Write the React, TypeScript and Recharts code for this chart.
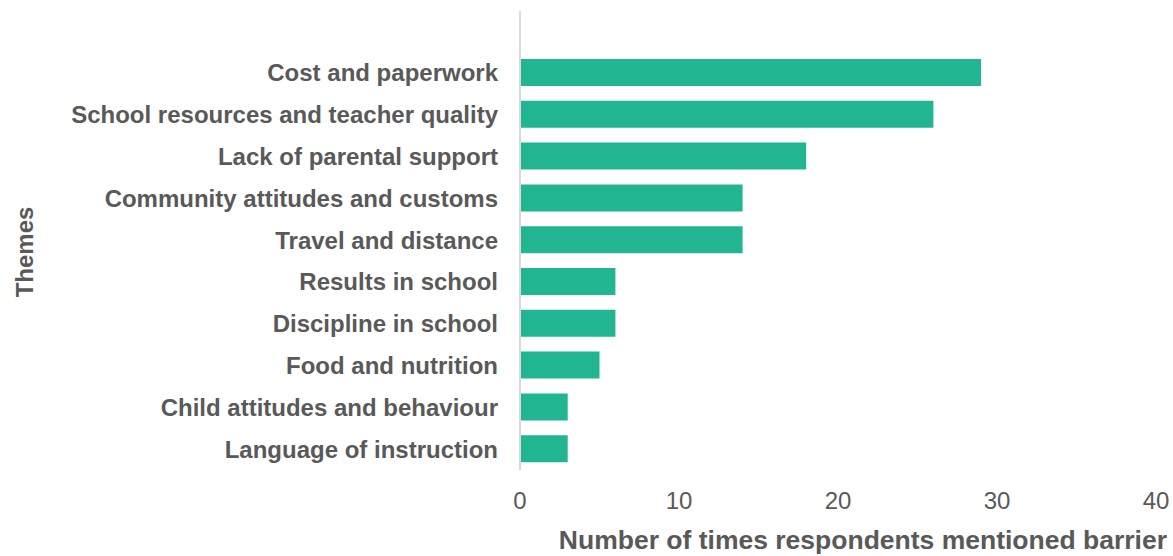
import { Bar, BarChart, XAxis, YAxis } from "recharts";

const THEMES = [
  "Cost and paperwork",
  "School resources and teacher quality",
  "Lack of parental support",
  "Community attitudes and customs",
  "Travel and distance",
  "Results in school",
  "Discipline in school",
  "Food and nutrition",
  "Child attitudes and behaviour",
  "Language of instruction",
];
const MENTIONS = [29, 26, 18, 14, 14, 6, 6, 5, 3, 3];
const X_TICKS = [0, 10, 20, 30, 40];

const FONT = "'Liberation Sans', Arial, sans-serif";
const TEXT_GREY = "#595959";
const BAR_GREEN = "#22b591";

const data = THEMES.map((theme, i) => ({ theme, value: MENTIONS[i] }));

function ThemesLabel() {
  const cx = 24;
  const cy = 252;
  return (
    <text
      x={cx}
      y={cy}
      transform={`rotate(-90, ${cx}, ${cy})`}
      textAnchor="middle"
      dominantBaseline="central"
      fill={TEXT_GREY}
      fontFamily={FONT}
      fontSize={24}
      fontWeight="bold"
    >
      Themes
    </text>
  );
}

function XTitle(props: any) {
  const { viewBox } = props;
  return (
    <text
      x={1167}
      y={viewBox.y + 79}
      textAnchor="end"
      fill={TEXT_GREY}
      fontFamily={FONT}
      fontSize={26.5}
      fontWeight="bold"
    >
      Number of times respondents mentioned barrier
    </text>
  );
}

export default function App() {
  return (
    <div style={{ position: "absolute", top: 0, left: 0, background: "#fff" }}>
      <BarChart
        width={1173}
        height={556}
        data={data}
        layout="vertical"
        margin={{ top: 11, right: 17, bottom: 0, left: 0 }}
        barSize={27}
      >
        <XAxis
          type="number"
          domain={[0, 40]}
          ticks={X_TICKS}
          axisLine={false}
          tickLine={false}
          tickSize={0}
          tickMargin={22}
          height={86}
          tick={{ fill: TEXT_GREY, fontSize: 24, fontFamily: FONT }}
          label={<XTitle />}
        />
        <YAxis
          type="category"
          dataKey="theme"
          width={520}
          interval={0}
          tickLine={false}
          tickSize={0}
          tickMargin={22}
          axisLine={{ stroke: "#d9d9d9", strokeWidth: 2 }}
          padding={{ top: 41, bottom: 0 }}
          tick={{ fill: TEXT_GREY, fontSize: 24, fontWeight: "bold", fontFamily: FONT }}
          label={<ThemesLabel />}
        />
        <Bar dataKey="value" fill={BAR_GREEN} isAnimationActive={false} />
      </BarChart>
    </div>
  );
}
